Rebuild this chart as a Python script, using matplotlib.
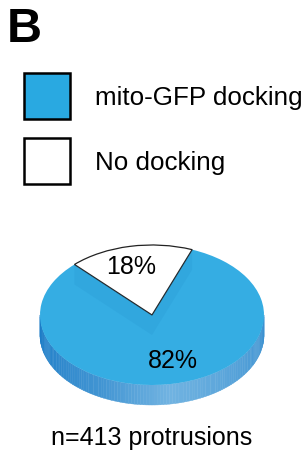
import matplotlib.pyplot as plt
import numpy as np
from matplotlib.patches import Wedge, Polygon, Rectangle
from matplotlib.collections import PolyCollection
from matplotlib.transforms import Affine2D

plt.rcParams.update({
    "font.family": ["Liberation Sans", "DejaVu Sans"],
})

# data
labels = ["mito-GFP docking", "No docking"]
shares = [82, 18]
pct_labels = ["82%", "18%"]
colors = ["#35ADE3", "#FFFFFF"]
legend_colors = ["#29A9E1", "#FFFFFF"]
note = "n=413 protrusions"

W, H = 306, 452
fig = plt.figure(figsize=(W / 100, H / 100), dpi=100)
ax = fig.add_axes([0, 0, 1, 1])
ax.set_xlim(0, W)
ax.set_ylim(H, 0)
ax.axis("off")

# panel letter
ax.text(7, 30, "B", fontsize=35, fontweight="bold", va="center", ha="left")

# legend boxes
for i, (lab, col) in enumerate(zip(labels, legend_colors)):
    y0 = 74 + i * 65
    ax.add_patch(Rectangle((24, y0), 46, 46, facecolor=col, edgecolor="black", lw=1.8))
    ax.text(95, y0 + 24, lab, fontsize=18.7, va="center", ha="left")

# 3D-ish pie geometry (ellipse)
cx, cy, a, b, depth = 152, 316, 112, 70, 20
tr = Affine2D().scale(a, -b).translate(cx, cy) + ax.transData

# side wall of the front half, drawn as strips with a shading ramp
t = np.linspace(np.pi, 2 * np.pi, 121)
xs = cx + a * np.cos(t)
ys = cy - b * np.sin(t)
strips = []
for k in range(len(t) - 1):
    strips.append([(xs[k], ys[k]), (xs[k + 1], ys[k + 1]),
                   (xs[k + 1], ys[k + 1] + depth), (xs[k], ys[k] + depth)])
shade = np.interp(np.linspace(0, 1, len(strips)), [0, 0.35, 0.55, 0.75, 1.0],
                  [0.0, 0.35, 0.75, 0.55, 0.3])
c0 = np.array([0x18, 0x7A, 0xC6]) / 255
c1 = np.array([0x8E, 0xC6, 0xEA]) / 255
fc = [tuple(c0 + (c1 - c0) * s) for s in shade]
ax.add_collection(PolyCollection(strips, facecolors=fc, edgecolors=fc, lw=0.3))

# top faces
start = 69.0
theta = start
angles = []
for val in shares[::-1]:
    angles.append((theta, theta + val * 3.6))
    theta += val * 3.6
# angles[0] -> white slice, angles[1] -> blue slice
ax.add_patch(Wedge((0, 0), 1, angles[1][0], angles[1][1], facecolor=colors[0],
                   edgecolor="none", transform=tr))
ax.add_patch(Wedge((0, 0), 1, angles[0][0], angles[0][1], facecolor=colors[1],
                   edgecolor="#222222", lw=0.9, transform=tr))

# faint inner walls along the cut edges
for ang in (angles[0][0], angles[0][1]):
    px = cx + a * np.cos(np.radians(ang))
    py = cy - b * np.sin(np.radians(ang))
    ax.add_patch(Polygon([(px, py), (cx, cy), (cx, cy + depth), (px, py + depth)],
                         closed=True, facecolor="#1F8CCB", alpha=0.18, edgecolor="none"))

# percent labels
ax.text(131, 267, pct_labels[1], fontsize=18, ha="center", va="center")
ax.text(173, 361, pct_labels[0], fontsize=18, ha="center", va="center")

ax.text(152, 438, note, fontsize=18, ha="center", va="center")

plt.savefig("out.png", dpi=100)
